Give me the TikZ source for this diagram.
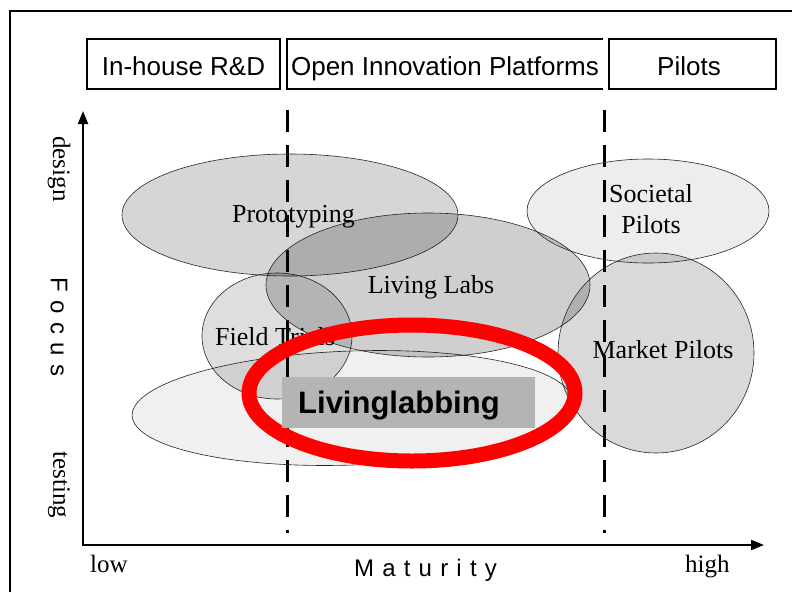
\documentclass[tikz,border=0pt]{standalone}
\usepackage{fontspec}
\setmainfont{Liberation Serif}
\newfontfamily\arialf{Liberation Sans}
\usetikzlibrary{arrows.meta}
\definecolor{boxgray}{HTML}{B4B4B4}
\definecolor{redring}{HTML}{FF0000}
\newcommand{\lsp}{\hspace{8.2pt}}
\begin{document}
\begin{tikzpicture}[x=1pt,y=-1pt,
  bubble/.style={draw=black!85, line width=0.6pt, fill=black},
  topframe/.style={line width=1.8pt},
  toplabel/.style={font=\arialf\fontsize{26}{30}\selectfont, inner sep=0pt},
  seriflabel/.style={font=\fontsize{26}{30}\selectfont, inner sep=0pt},
  axislabel/.style={font=\fontsize{25}{30}\selectfont, inner sep=0pt},
  sanslabel/.style={font=\arialf\fontsize{24}{28}\selectfont, inner sep=0pt},
  divider/.style={line width=3pt, dash pattern=on 22pt off 13pt},
  axisline/.style={line width=2.2pt}]
\useasboundingbox (0,0) rectangle (792,592);
\fill[white] (0,0) rectangle (792,592);
% outer frame
\draw[topframe] (10,592) -- (10,11) -- (792,11);
% top boxes
\draw[topframe] (87,39) rectangle (280,89);
\draw[topframe] (603,39) -- (287,39) -- (287,89) -- (603,89);
\draw[topframe] (609,39) rectangle (776,89);
\node[toplabel, anchor=base] (rd) at (183.5,75) {In-house R\&D};
\node[toplabel, anchor=base] (oip) at (445,75) {Open Innovation Platforms};
\node[toplabel, anchor=base] (pil) at (689,75) {Pilots};
% dividers
\coordinate (d1t) at (287,110); \coordinate (d1b) at (287,533);
\coordinate (d2t) at (604,110); \coordinate (d2b) at (604,533);
\draw[divider] (d1t) -- (d1b);
\draw[divider] (d2t) -- (d2b);
% axes
\coordinate (o) at (83,545);
\coordinate (ytip) at (83,111);
\coordinate (xtip) at (764,545);
\draw[axisline, {Triangle[length=13pt,width=10pt]}-{Triangle[length=13pt,width=10pt]}] (ytip) -- (o) -- (xtip);
% bubbles
\filldraw[bubble, fill opacity=0.06, rotate around={2:(352,408)}] (352,408) ellipse [x radius=220, y radius=57];
\filldraw[bubble, fill opacity=0.13] (277,336) ellipse [x radius=75, y radius=63];
\filldraw[bubble, fill opacity=0.16] (290,215) ellipse [x radius=168, y radius=61];
\filldraw[bubble, fill opacity=0.19] (428,285) ellipse [x radius=162, y radius=72];
\filldraw[bubble, fill opacity=0.07] (648,211) ellipse [x radius=121, y radius=52];
\filldraw[bubble, fill opacity=0.15] (656,353) ellipse [x radius=98, y radius=100];
% bubble labels
\node[seriflabel, anchor=base] (proto) at (293.5,222) {Prototyping};
\node[seriflabel, anchor=base] (ll) at (431,293) {Living Labs};
\node[seriflabel, anchor=base] (soc1) at (651,202) {Societal};
\node[seriflabel, anchor=base] (soc2) at (651,233) {Pilots};
\node[seriflabel, anchor=base] (mp) at (663,358) {Market Pilots};
\node[seriflabel, anchor=base west] (ft) at (215,345) {Field Trials};
% red ring
\draw[redring, line width=15pt] (412,393) ellipse [x radius=163, y radius=68];
% livinglabbing box
\node[fill=boxgray, minimum width=253pt, minimum height=51pt, inner sep=0pt, anchor=north west] (llbox) at (282,377) {};
\node[font=\arialf\bfseries\fontsize{31}{36}\selectfont, inner sep=0pt, anchor=base west] (lltext) at (298,413) {Livinglabbing};
% axis labels
\node[axislabel, rotate=-90] (design) at (59,169) {design};
\node[axislabel, rotate=-90] (testing) at (59,485) {testing};
\node[sanslabel, rotate=-90] (focus) at (59,327) {F\lsp o\lsp c\lsp u\lsp s};
\node[axislabel, anchor=base west] (low) at (90,572) {low};
\node[axislabel, anchor=base west] (high) at (685,572) {high};
\node[sanslabel, anchor=base] (mat) at (425.5,576) {M\lsp a\lsp t\lsp u\lsp r\lsp i\lsp t\lsp y};
\end{tikzpicture}
\end{document}
